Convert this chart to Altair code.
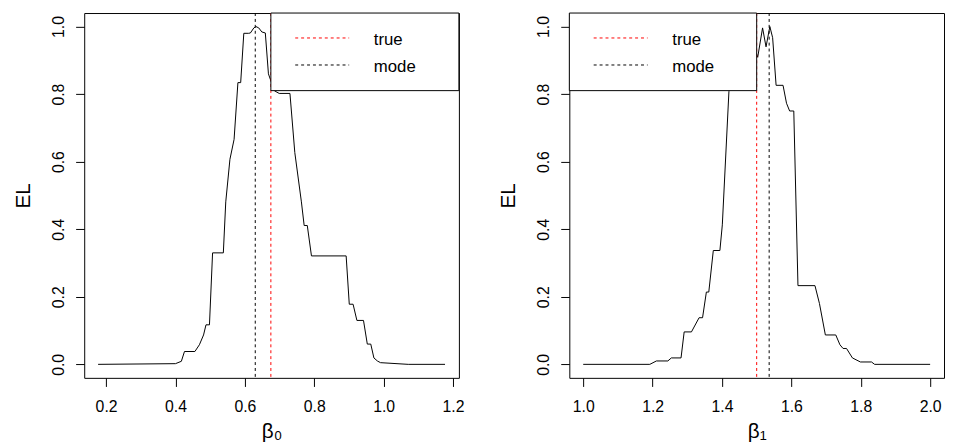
import altair as alt
import pandas as pd

# ---- data ----
b0_x = [0.177, 0.400, 0.417, 0.426, 0.456, 0.469, 0.481, 0.488, 0.498, 0.507,
        0.538, 0.545, 0.557, 0.569, 0.580, 0.588, 0.597, 0.611, 0.616, 0.626,
        0.632, 0.640, 0.649, 0.659, 0.668, 0.685, 0.699, 0.730, 0.744, 0.763,
        0.771, 0.780, 0.792, 0.892, 0.901, 0.912, 0.923, 0.942, 0.953, 0.963,
        0.972, 0.982, 0.991, 1.071, 1.177]
b0_el = [0.000, 0.002, 0.009, 0.038, 0.038, 0.058, 0.087, 0.117, 0.117, 0.330,
         0.330, 0.481, 0.607, 0.666, 0.834, 0.834, 0.980, 0.980, 0.981, 0.996,
         1.000, 0.996, 0.984, 0.981, 0.860, 0.810, 0.802, 0.802, 0.627, 0.481,
         0.411, 0.411, 0.321, 0.321, 0.178, 0.178, 0.130, 0.130, 0.060, 0.060,
         0.019, 0.010, 0.005, 0.000, 0.000]

b1_x = [1.000, 1.192, 1.211, 1.244, 1.254, 1.282, 1.291, 1.312, 1.334, 1.344,
        1.355, 1.362, 1.375, 1.394, 1.401, 1.420, 1.440, 1.480, 1.503, 1.517,
        1.527, 1.538, 1.546, 1.556, 1.576, 1.586, 1.595, 1.607, 1.619, 1.668,
        1.681, 1.698, 1.728, 1.740, 1.749, 1.759, 1.776, 1.799, 1.831, 1.840,
        2.000]
b1_el = [0.000, 0.000, 0.010, 0.010, 0.019, 0.019, 0.096, 0.096, 0.138, 0.138,
         0.214, 0.214, 0.337, 0.337, 0.413, 0.807, 0.960, 0.980, 0.909, 0.996,
         0.940, 1.000, 0.967, 0.826, 0.826, 0.773, 0.750, 0.750, 0.233, 0.233,
         0.180, 0.087, 0.087, 0.058, 0.047, 0.047, 0.019, 0.007, 0.007, 0.000,
         0.000]

true_vals = [0.675, 1.500]
mode_vals = [0.630, 1.536]

x_ticks_b0 = [0.2, 0.4, 0.6, 0.8, 1.0, 1.2]
x_ticks_b1 = [1.0, 1.2, 1.4, 1.6, 1.8, 2.0]
y_ticks = [0.0, 0.2, 0.4, 0.6, 0.8, 1.0]
x_titles = ["β₀", "β₁"]
y_title = "EL"
legend_labels = ["true", "mode"]
legend_colors = ["red", "black"]

# ---- layout constants ----
W, H = 380, 370
FONT = "Liberation Sans"
DASH = [3, 3]
LABEL_FS = 16
TITLE_FS = 21
LEGEND_FS = 17


def panel(xs, ys, true_v, mode_v, xticks, xtitle, legend_side):
    lo, hi = min(xs), max(xs)
    pad = (hi - lo) * 0.04
    xscale = alt.Scale(domain=[lo - pad, hi + pad], nice=False, zero=False)
    yscale = alt.Scale(domain=[-0.04, 1.04], nice=False, zero=False)

    xaxis = alt.Axis(values=xticks, format=".1f", title=xtitle, labelAngle=0,
                     labelBaseline="alphabetic", labelPadding=25, labelFlush=False,
                     titleX=W / 2, titleY=61, titleAlign="center",
                     titleBaseline="alphabetic", titleAngle=0)
    yaxis = alt.Axis(values=y_ticks, format=".1f", title=y_title, labelAngle=-90,
                     labelAlign="center", labelBaseline="alphabetic",
                     labelPadding=12.6, labelFlush=False,
                     titleX=-55.7, titleY=H / 2, titleAlign="center",
                     titleBaseline="alphabetic", titleAngle=270)

    df = pd.DataFrame({"beta": xs, "EL": ys})
    line = alt.Chart(df).mark_line(color="black", strokeWidth=1).encode(
        x=alt.X("beta:Q", scale=xscale, axis=xaxis),
        y=alt.Y("EL:Q", scale=yscale, axis=yaxis),
    )

    vdf = pd.DataFrame({"v": [true_v, mode_v], "k": legend_labels})
    vlines = alt.Chart(vdf).mark_rule(strokeDash=DASH, strokeWidth=1).encode(
        x=alt.X("v:Q", scale=xscale),
        color=alt.Color("k:N", scale=alt.Scale(domain=legend_labels,
                                               range=legend_colors), legend=None),
    )

    if legend_side == "right":
        bx0, bx1 = 189.3, W
    else:
        bx0, bx1 = 0, 190
    by0, by1 = 0, 78.7
    lx0, lx1 = bx0 + 24.7, bx0 + 79.4
    tx = bx0 + 104.4
    line_ys = [25.3, 52.7]
    text_ys = [32.7, 59.3]

    box = alt.Chart(pd.DataFrame({"a": [0]})).mark_rect(
        fill="white", stroke="black", strokeWidth=1
    ).encode(x=alt.value(bx0), x2=alt.value(bx1), y=alt.value(by0), y2=alt.value(by1))

    layers = [line, vlines, box]
    for lab, col, ly, ty in zip(legend_labels, legend_colors, line_ys, text_ys):
        layers.append(
            alt.Chart(pd.DataFrame({"a": [0]})).mark_rule(
                color=col, strokeDash=DASH, strokeWidth=1
            ).encode(x=alt.value(lx0), x2=alt.value(lx1), y=alt.value(ly))
        )
        layers.append(
            alt.Chart(pd.DataFrame({"a": [0]})).mark_text(
                align="left", baseline="alphabetic", fontSize=LEGEND_FS, font=FONT,
                color="black"
            ).encode(x=alt.value(tx), y=alt.value(ty), text=alt.value(lab))
        )
    return alt.layer(*layers).properties(width=W, height=H)


left = panel(b0_x, b0_el, true_vals[0], mode_vals[0], x_ticks_b0, x_titles[0], "right")
right = panel(b1_x, b1_el, true_vals[1], mode_vals[1], x_ticks_b1, x_titles[1], "left")

chart = alt.hconcat(
    left, right, spacing=32,
    padding={"left": 3.3, "top": 1, "right": 0, "bottom": 0},
).configure(
    background="white",
).configure_view(
    stroke="black", strokeWidth=1
).configure_axis(
    domain=False, grid=False, ticks=True, tickColor="black", tickSize=8.7,
    tickWidth=1, labelFont=FONT, labelFontSize=LABEL_FS, labelColor="black",
    titleFont=FONT, titleFontSize=TITLE_FS, titleFontWeight="normal", titleColor="black",
)

chart.save("out.html", embed_options={"renderer": "svg", "actions": False})
